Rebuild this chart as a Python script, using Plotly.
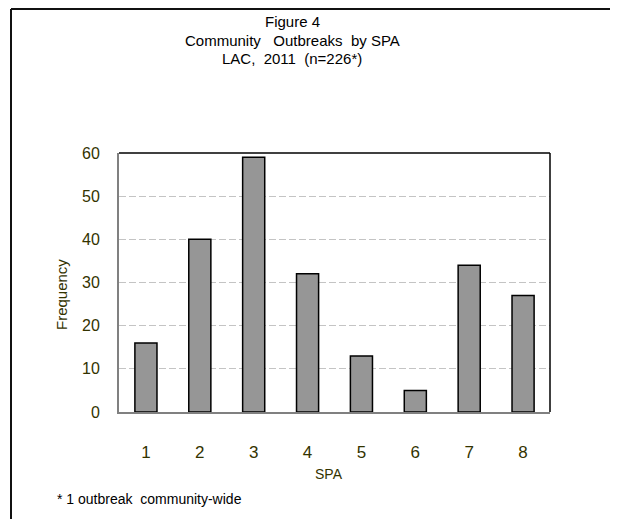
import plotly.graph_objects as go

categories = ["1", "2", "3", "4", "5", "6", "7", "8"]
frequency = [16, 40, 59, 32, 13, 5, 34, 27]
y_ticks = [0, 10, 20, 30, 40, 50, 60]

OFF = 8  # default page body margin
W, H = 618 - OFF, 519 - OFF
L, R, T, B = 119 - OFF, 550 - OFF, 153 - OFF, 412 - OFF
pw, ph = R - L, B - T

def px(x):
    return (x - OFF - L) / pw

def py(y):
    return (B - (y - OFF)) / ph

NB = "\u00a0"
txt_col = "#333300"
font = "Liberation Sans, Arial, sans-serif"

fig = go.Figure()
fig.add_trace(go.Bar(
    x=categories, y=frequency,
    marker=dict(color="#969696", line=dict(color="#000000", width=1.5)),
    width=0.41,
))

fig.update_layout(
    width=W, height=H,
    margin=dict(l=L, r=W - R, t=T, b=H - B, pad=0),
    paper_bgcolor="white", plot_bgcolor="white",
    showlegend=False,
    font=dict(family=font, color=txt_col),
    xaxis=dict(
        type="category", range=[-0.5, 7.5],
        showgrid=False, showline=True, linecolor="#808080", linewidth=2,
        ticks="", tickfont=dict(size=17, color=txt_col), ticklabelstandoff=24,
    ),
    yaxis=dict(
        range=[0, 60], tickvals=y_ticks,
        showgrid=True, gridcolor="#c4c4c4", griddash="7px,3px", gridwidth=1,
        showline=True, linecolor="#808080", linewidth=2,
        ticks="", tickfont=dict(size=16, color=txt_col), ticklabelstandoff=14,
        zeroline=False,
    ),
)

# axis titles
fig.add_annotation(text="SPA", xref="paper", yref="paper", x=px(329), y=py(474),
                   showarrow=False, xanchor="center", yanchor="middle",
                   font=dict(size=14, color=txt_col, family=font))
fig.add_annotation(text="Frequency", xref="paper", yref="paper", x=px(61), y=py(295),
                   showarrow=False, xanchor="center", yanchor="middle", textangle=-90,
                   font=dict(size=15, color=txt_col, family=font))

# black top/right plot border
fig.add_shape(type="line", xref="paper", yref="paper", x0=0, x1=1, y0=1, y1=1,
              line=dict(color="#000000", width=1.5))
fig.add_shape(type="line", xref="paper", yref="paper", x0=1, x1=1, y0=0, y1=1,
              line=dict(color="#000000", width=1.5))
# outer frame (top & left)
fig.add_shape(type="line", xref="paper", yref="paper", x0=px(11), x1=px(625), y0=py(9), y1=py(9),
              line=dict(color="#111111", width=2))
fig.add_shape(type="line", xref="paper", yref="paper", x0=px(11), x1=px(11), y0=py(9), y1=py(525),
              line=dict(color="#111111", width=2))

title_lines = ["Figure" + NB + "4",
               "Community" + NB * 3 + "Outbreaks" + NB * 2 + "by" + NB + "SPA",
               "LAC," + NB * 2 + "2011" + NB * 2 + "(n=226*)"]
for i, t in enumerate(title_lines):
    fig.add_annotation(text=t, xref="paper", yref="paper", x=px(292), y=py(22 + 18 * i),
                       showarrow=False, xanchor="center", yanchor="middle",
                       font=dict(size=15, color="#000000", family=font))

fig.add_annotation(text="*" + NB + "1" + NB + "outbreak" + NB * 2 + "community-wide",
                   xref="paper", yref="paper", x=px(55), y=py(499),
                   showarrow=False, xanchor="left", yanchor="middle",
                   font=dict(size=14, color="#000000", family=font))

fig.write_html("out.html")
